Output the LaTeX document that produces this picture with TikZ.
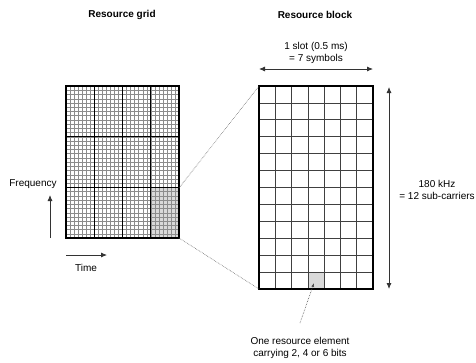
\documentclass[tikz,border=0pt]{standalone}
\usepackage{fontspec}
\setmainfont{Liberation Sans}
\usetikzlibrary{arrows.meta}
\begin{document}
\begin{tikzpicture}[x=1pt,y=-1pt,
  font=\fontsize{10}{11.5}\selectfont,
  lbl/.style={inner sep=0pt, align=center},
  ttl/.style={inner sep=0pt, font=\fontsize{10}{12}\selectfont\bfseries},
  fine/.style={draw=black!45, line width=0.3pt},
  major/.style={draw=black, line width=1.3pt},
  cellline/.style={draw=black!75, line width=0.7pt},
  zoomline/.style={draw=black!60, densely dotted, line width=0.6pt},
  dimarrow/.style={draw=black!80, line width=0.8pt, {Latex[length=6pt,width=5pt]}-{Latex[length=6pt,width=5pt]}},
  axarrow/.style={draw=black!80, line width=0.8pt, -{Latex[length=6pt,width=5pt]}},
  pointer/.style={draw=black!70, densely dotted, line width=0.6pt, -{Latex[length=4pt,width=3pt]}}
]
\useasboundingbox (0,0) rectangle (476,362);

% titles
\node[ttl] (t1) at (122,15) {Resource grid};
\node[ttl] (t2) at (315,15) {Resource block};

% ---------- resource grid ----------
\fill[black!15] (151,188) rectangle (179,238);
\foreach \i in {1,...,27} \draw[fine] ({66+\i*113/28},86) -- ++(0,152);
\foreach \j in {1,...,35} \draw[fine] (66,{86+\j*152/36}) -- ++(113,0);
\draw[major] (94.25,86) -- (94.25,238);
\draw[major] (122.5,86) -- (122.5,238);
\draw[major] (150.75,86) -- (150.75,238);
\draw[major] (66,136.67) -- (179,136.67);
\draw[major] (66,187.33) -- (179,187.33);
\draw[major] (66,86) rectangle (179,238);

% axes
\coordinate (fb) at (50,238);
\coordinate (ft) at (50,195);
\draw[axarrow] (fb) -- (ft);
\node[lbl] (freq) at (33,184) {Frequency};
\coordinate (tl) at (66,255);
\coordinate (tr) at (107,255);
\draw[axarrow] (tl) -- (tr);
\node[lbl] (time) at (86,268) {Time};

% ---------- resource block ----------
\fill[black!15] ({259+3*114/7},{86+11*203/12}) rectangle ++({114/7},{203/12});
\foreach \i in {1,...,6} \draw[cellline] ({259+\i*114/7},86) -- ++(0,203);
\foreach \j in {1,...,11} \draw[cellline] (259,{86+\j*203/12}) -- ++(114,0);
\draw[draw=black, line width=2.6pt] (259,86) rectangle (373,289);

% zoom lines
\coordinate (gA) at (179,188);
\coordinate (gB) at (179,238);
\coordinate (bA) at (259,86);
\coordinate (bB) at (259,289);
\draw[zoomline] (gA) -- (bA);
\draw[zoomline] (gB) -- (bB);

% slot arrow
\coordinate (sl) at (259,69);
\coordinate (sr) at (373,69);
\draw[dimarrow] (sl) -- (sr);
\node[lbl] (slot) at (316,53) {1 slot (0.5 ms)\\= 7 symbols};

% bandwidth arrow
\coordinate (bt) at (389,87);
\coordinate (bb) at (389,289);
\draw[dimarrow] (bt) -- (bb);
\node[lbl] (bw) at (437,190) {180 kHz\\= 12 sub-carriers};

% resource element
\node[lbl] (re) at (300,348) {One resource element\\carrying 2, 4 or 6 bits};
\coordinate (pe) at (300,323);
\coordinate (ce) at (314,283);
\draw[pointer] (pe) -- (ce);
\end{tikzpicture}
\end{document}
